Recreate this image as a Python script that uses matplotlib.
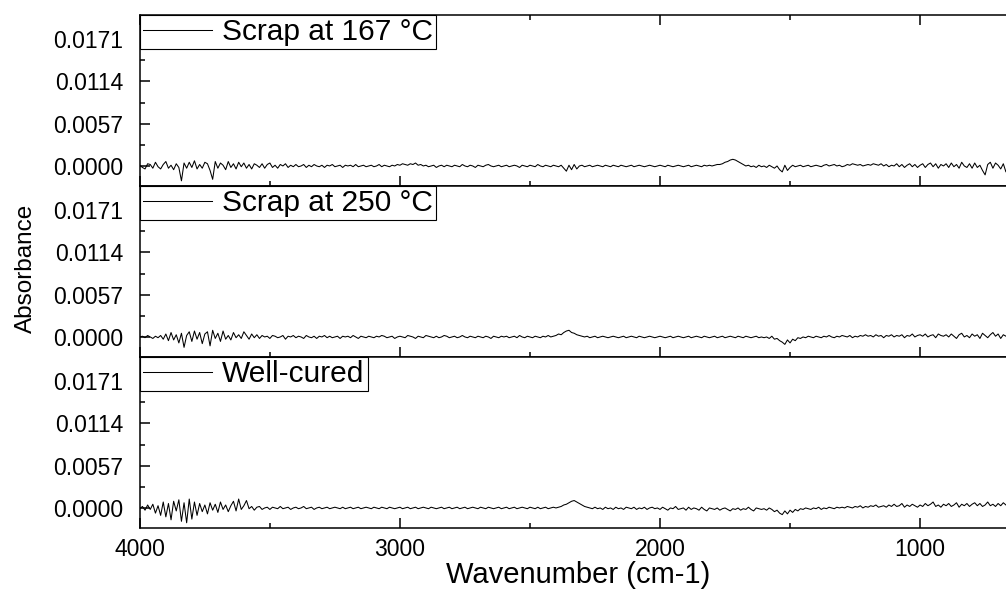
import numpy as np
from matplotlib import pyplot as plt
from matplotlib.ticker import MultipleLocator, FormatStrFormatter

plt.rcParams['font.family'] = ['Liberation Sans', 'DejaVu Sans']

# wavenumber grid, cm-1 (4000 down to 610 every 10)
wavenumber = np.arange(4000, 609, -10)

# absorbance, in units of 1e-4
scrap_167 = [
    1, -2, -4, 3, 2, -3, 5, -1, -4, 2,
    6, -3, 1, -5, 3, -2, -20, 4, -3, 5,
    -2, 7, -4, 2, -3, 5, 3, -6, -18, 6,
    -3, 4, 1, -5, 6, -2, 3, -4, 5, -1,
    4, -3, 2, -4, 3, 1, -2, 3, -3, 2,
    4, -2, 1, -3, 2, 0, 3, -2, 1, -1,
    2, -1, 0, 2, -2, 1, -1, 2, 0, -1,
    1, -2, 1, 0, 2, -1, 0, 1, -2, 1,
    0, 1, -1, 2, -1, 0, 1, -1, 0, 1,
    -1, 0, 2, -1, 1, 0, -1, 1, 0, 2,
    1, 3, 2, 1, 3, 2, 4, 1, 2, 0,
    1, -1, 0, 1, -2, 0, 1, -1, 1, 0,
    -1, 1, 0, -1, 2, 0, -1, 1, 0, -2,
    1, 0, -1, 1, 2, 0, -1, 0, 1, -1,
    0, 1, -1, 0, 1, 0, -2, 1, 0, -1,
    1, 0, -1, 2, 0, -1, 1, 0, -1, 1,
    0, -1, 1, -3, -7, 1, -5, 2, -4, 0,
    1, -1, 0, 1, -1, 0, 1, 0, -1, 1,
    0, -1, 1, 0, -1, 1, 0, -1, 0, 1,
    -1, 0, 1, 0, -1, 0, 1, 0, -1, 0,
    1, 0, -1, 1, 0, -1, 0, 1, 0, -1,
    0, 1, -1, 0, 1, 0, -1, 1, 0, 1,
    0, 1, 2, 2, 3, 5, 6, 8, 9, 8,
    6, 4, 2, 0, 1, -1, 0, -2, 1, -1,
    0, -2, 1, -1, -3, 0, -5, -8, 1, -6,
    -2, 1, -1, 0, 1, -1, 0, 1, -1, 0,
    1, 0, -1, 1, 2, 0, 1, 2, 0, 1,
    -1, 0, 2, 1, 3, 2, 1, 2, 0, 1,
    2, 1, 3, 2, 1, 3, 0, 2, -1, 1,
    0, 3, -1, 2, -2, 1, 3, -1, 2, -2,
    1, 3, -2, 2, 4, -1, 3, -3, 2, 0,
    3, -2, 4, -1, 2, -3, 5, 0, -2, 3,
    -3, 4, -2, 1, -6, -12, 2, 5, -3, 4,
    1, -4, 3, -8, 2, 5, -2, 3, 1, -1,
]
scrap_250 = [
    0, 1, -1, 2, 0, -2, 1, -1, 2, -3,
    4, -5, 6, -4, 3, -8, 5, -14, 2, 7,
    -6, 8, -3, 6, -9, 4, 7, -12, 9, -2,
    5, -6, 8, -3, 2, -4, 6, -1, 3, -2,
    7, 2, -3, 4, -1, 3, -2, 2, 0, 1,
    -2, 2, 1, -1, 0, 2, -3, 1, 0, 2,
    -1, 1, 0, -2, 2, 0, -1, 1, -2, 1,
    0, 2, -1, 1, -1, 0, 1, -2, 1, 0,
    1, -1, 2, 0, -2, 1, 0, -1, 1, 0,
    -1, 1, 0, 2, 1, -1, 0, 1, -2, 0,
    1, 0, -1, 2, 1, 0, -2, 1, 0, -1,
    2, 1, 0, -1, 1, -1, 0, 2, 1, -1,
    0, 1, -1, 0, 2, 0, -1, 1, 0, -1,
    1, 0, -1, 1, 0, -2, 1, 0, -1, 1,
    0, 1, -1, 0, 1, -1, 2, 0, -1, 1,
    0, -1, 1, 0, -1, 1, 0, 2, 0, 1,
    2, 4, 3, 6, 8, 9, 6, 5, 3, 2,
    1, 0, 1, -1, 0, 1, -1, 0, 1, 0,
    -1, 0, 1, 0, -1, 0, 1, -1, 0, 1,
    0, -1, 1, 0, -1, 0, 1, 0, -1, 0,
    1, 0, -1, 0, 1, -1, 0, 1, 0, -1,
    0, 1, -1, 0, 1, 0, -1, 1, 0, -1,
    0, 1, -1, 0, 1, -1, 0, 1, 0, -1,
    1, 0, -1, 1, 0, -1, 0, 1, -1, 0,
    -1, 0, -2, 1, -3, -2, -5, -7, -10, -4,
    -8, -3, -5, -1, -2, 0, -1, 1, 0, -1,
    1, 0, -1, 1, 0, 2, 0, -1, 1, 0,
    2, 1, 0, 2, -1, 1, 0, 2, 1, 3,
    1, 2, 0, 3, 1, 2, -1, 2, 1, 3,
    0, 2, 1, 3, -1, 2, 1, 4, 0, 2,
    3, 1, 4, 0, 2, 3, -1, 4, 2, 1,
    3, 0, 4, 1, -2, 3, 5, 0, 2, -1,
    4, 1, 3, -2, 5, 2, -1, 3, 6, 1,
    4, -2, 3, 1, 5, 2, 4, -1, 3, 2,
]
well_cured = [
    -1, 2, -3, 4, -2, 5, -7, 3, -10, 8,
    -12, 6, -16, 9, -4, 11, -18, 7, -20, 12,
    -15, 8, -10, 6, -5, 4, -8, 7, -3, 5,
    -6, 8, -2, 4, -5, 3, 9, -4, 12, -2,
    3, 10, -1, 2, -3, 1, 2, -2, 0, 1,
    -2, 1, 0, -1, 2, -1, 0, 1, -2, 0,
    1, -1, 0, 2, -1, 0, 1, -2, 0, 1,
    -1, 0, 1, -1, 0, 1, 0, -1, 1, -1,
    0, 1, -1, 0, 1, -1, 0, 1, 0, -1,
    1, 0, -1, 1, 0, -1, 1, 0, -1, 0,
    1, -1, 0, 1, -1, 0, 1, -1, 0, 1,
    0, -1, 1, 0, -1, 0, 1, -1, 0, 1,
    -1, 0, 1, -1, 0, 1, -1, 0, 1, 0,
    -1, 1, 0, -1, 1, 0, -1, 0, 1, -1,
    0, 1, -1, 0, 1, -1, 0, 1, 0, -1,
    1, 0, -1, 1, -1, 0, 1, -1, 0, 1,
    0, 1, 2, 4, 5, 7, 9, 10, 8, 6,
    4, 2, 1, 0, -1, 1, -1, 0, -2, 1,
    -1, 0, -2, 1, -1, 0, -2, 1, 0, -1,
    1, -2, 0, -1, 1, -2, 0, 1, -1, 0,
    -2, 1, -1, -3, 0, -1, 2, -2, -1, 0,
    -3, 1, -2, 0, -1, -3, 1, -2, -4, 0,
    -1, -2, 0, -3, -1, 0, -2, -4, -1, -2,
    0, -3, -1, -2, 1, -2, -4, 0, -1, -2,
    -1, -3, 0, -2, -5, -3, -7, -9, -4, -8,
    -3, -6, -2, -4, -1, -2, 0, -1, -2, 0,
    -1, 1, -2, 0, -1, 1, 0, -1, 1, 0,
    1, 0, 2, 1, 0, 2, 1, 3, 0, 2,
    1, 3, 2, 4, 1, 2, 3, 1, 4, 2,
    5, 2, 3, 6, 1, 4, 2, 5, 3, 1,
    4, 2, 6, 3, 5, 8, 2, 4, 1, 5,
    3, 6, 2, 4, 7, 1, 5, 3, 6, 2,
    5, 7, 3, 6, 2, 4, 8, 3, 5, 2,
    6, 3, 7, 4, 2, 5, 3, 6, 4, 2,
]

panels = [
    ('Scrap at 167 °C', scrap_167),
    ('Scrap at 250 °C', scrap_250),
    ('Well-cured', well_cured),
]
yticks = [0.0, 0.0057, 0.0114, 0.0171]

fig, axes = plt.subplots(3, 1, sharex=True, figsize=(10.06, 5.89), dpi=100)
fig.subplots_adjust(left=0.139, right=1.01, top=0.9745, bottom=0.1036, hspace=0)

for ax, (label, values) in zip(axes, panels):
    ax.plot(wavenumber, np.array(values) * 1e-4, color='black', lw=0.75, label=label)
    ax.set_ylim(-0.0027, 0.02035)
    ax.set_yticks(yticks)
    ax.yaxis.set_minor_locator(MultipleLocator(0.00285))
    ax.yaxis.set_major_formatter(FormatStrFormatter('%.4f'))
    ax.xaxis.set_major_locator(MultipleLocator(1000))
    ax.xaxis.set_minor_locator(MultipleLocator(500))
    ax.tick_params(which='both', direction='in', width=1.1, labelsize=16.5)
    ax.tick_params(which='major', length=7)
    ax.tick_params(which='minor', length=3.5)
    ax.tick_params(axis='y', pad=12)
    ax.tick_params(axis='x', pad=7)
    for sp in ax.spines.values():
        sp.set_linewidth(1.1)
    leg = ax.legend(loc='upper left', bbox_to_anchor=(0, 1), borderaxespad=0,
                    fontsize=21.5, handlelength=2.3, handletextpad=0.36,
                    borderpad=0.1, fancybox=False, framealpha=1)
    leg.get_frame().set_edgecolor('black')
    leg.get_frame().set_linewidth(0.8)

axes[0].tick_params(axis='x', which='both', top=True)
axes[-1].set_xlim(4000, 631)
axes[-1].set_xlabel('Wavenumber (cm-1)', fontsize=21, labelpad=0.5)
fig.text(0.026, 0.545, 'Absorbance', rotation=90, va='center', ha='center', fontsize=17.5)

plt.savefig('out.png', dpi=100)
